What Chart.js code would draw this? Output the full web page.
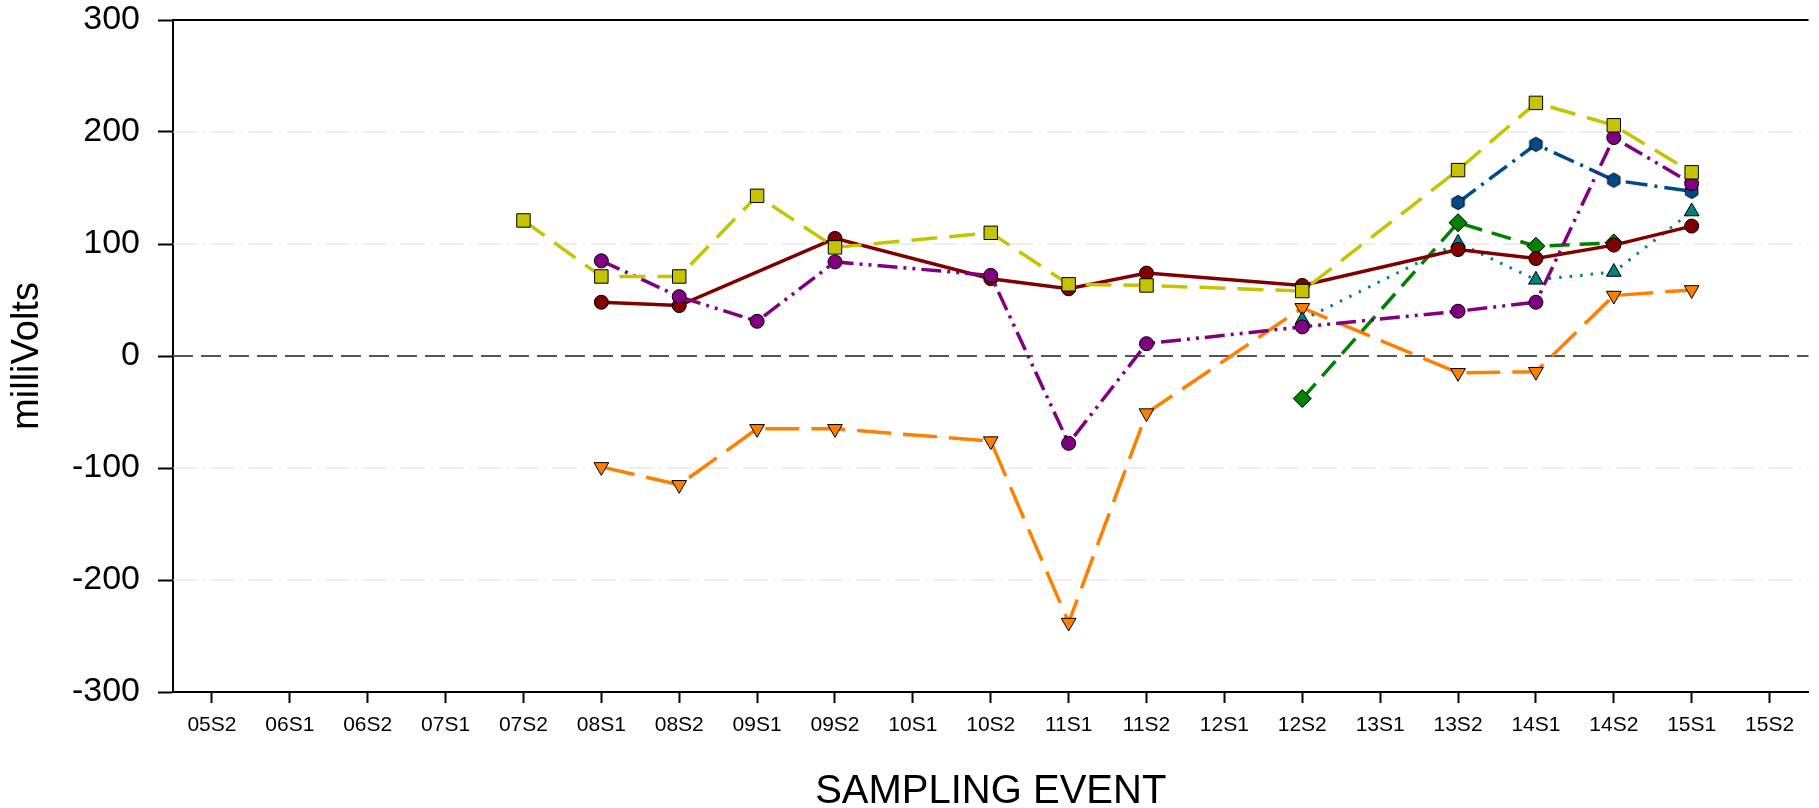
<!DOCTYPE html>
<html>
<head>
<meta charset="utf-8">
<script src="https://cdn.jsdelivr.net/npm/chart.js@4.4.0/dist/chart.umd.min.js"></script>
<style>
  body { margin: 0; background: #fff; }
  canvas { display: block; }
</style>
</head>
<body>
<canvas id="myChart" width="1819" height="808"></canvas>
<script>
// sampling events along the x axis
const events = ['05S2', '06S1', '06S2', '07S1', '07S2', '08S1', '08S2', '09S1', '09S2', '10S1',
    '10S2', '11S1', '11S2', '12S1', '12S2', '13S1', '13S2', '14S1', '14S2', '15S1', '15S2'];

const yTicks = [-300, -200, -100, 0, 100, 200, 300];

// values in millivolts, null where the well was not sampled
const darkRed = [null, null, null, null, null, 48, 45, null, 105, null, 69, 60, 74, null, 63, null, 95, 87, 99, 116, null];
const olive = [null, null, null, null, 121, 71, 71, 143, 97, null, 110, 64, 63, null, 58, null, 166, 226, 206, 164, null];
const purple = [null, null, null, null, null, 85, 53, 31, 84, null, 72, -78, 11, null, 26, null, 40, 48, 195, 154, null];
const orange = [null, null, null, null, null, -99, -115, -65, -65, null, -76, -238, -51, null, 43, null, -15, -14, 54, 59, null];
const darkBlue = [null, null, null, null, null, null, null, null, null, null, null, null, null, null, null, null, 137, 189, 157, 147, null];
const green = [null, null, null, null, null, null, null, null, null, null, null, null, null, null, -38, null, 119, 98, 101, null, null];
const teal = [null, null, null, null, null, null, null, null, null, null, null, null, null, null, 32, null, 101, 68, 75, 129, null];

// hexagon marker, chart.js has none built in
function hexagon(fill) {
    const c = document.createElement('canvas');
    c.width = 17;
    c.height = 17;
    const g = c.getContext('2d');
    g.beginPath();
    for (let i = 0; i < 6; i++) {
        const a = Math.PI / 2 + i * Math.PI / 3;
        const px = 8.5 + 7.2 * Math.cos(a);
        const py = 8.5 - 7.2 * Math.sin(a);
        if (i === 0) g.moveTo(px, py); else g.lineTo(px, py);
    }
    g.closePath();
    g.fillStyle = fill;
    g.fill();
    g.lineWidth = 1;
    g.strokeStyle = '#000';
    g.stroke();
    return c;
}

// reference lines drawn on the y scale
const gridLines = {
    id: 'gridLines',
    beforeDatasetsDraw(chart) {
        const { ctx, chartArea, scales: { y } } = chart;
        ctx.save();
        yTicks.forEach(v => {
            if (v === -300) return;
            const py = Math.round(y.getPixelForValue(v));
            ctx.beginPath();
            if (v === 300) {
                ctx.strokeStyle = '#000';
                ctx.lineWidth = 2;
                ctx.setLineDash([]);
            } else if (v === 0) {
                ctx.strokeStyle = '#555';
                ctx.lineWidth = 2;
                ctx.setLineDash([20, 8]);
            } else {
                ctx.strokeStyle = '#dcdcdc';
                ctx.lineWidth = 1;
                ctx.setLineDash([24, 6, 2, 6]);
            }
            ctx.moveTo(chartArea.left, py);
            ctx.lineTo(chartArea.right, py);
            ctx.stroke();
        });
        ctx.restore();
    }
};

function series(data, color, dash, style, radius, extra) {
    return Object.assign({
        data: data,
        borderColor: color,
        backgroundColor: color,
        borderWidth: 3.5,
        borderDash: dash,
        borderCapStyle: 'butt',
        pointStyle: style,
        pointRadius: radius,
        pointBorderColor: '#000',
        pointBorderWidth: 1,
        pointBackgroundColor: color,
        spanGaps: true,
        tension: 0
    }, extra || {});
}

const ctx = document.getElementById('myChart').getContext('2d');
new Chart(ctx, {
    type: 'line',
    data: {
        labels: events,
        datasets: [
            series(olive, '#c6c400', [26, 12], 'rect', 9.5),
            series(purple, '#800080', [20, 6, 3, 6, 3, 6], 'circle', 7),
            series(darkRed, '#800000', [], 'circle', 7),
            series(darkBlue, '#004a8c', [22, 7, 3, 7], hexagon('#004a8c'), 7),
            series(green, '#008000', [20, 10], 'rectRot', 9),
            series(teal, '#008080', [2.5, 8], 'triangle', 8.5, { borderWidth: 3 }),
            series(orange, '#ff8000', [34, 12], 'triangle', 8.5, { pointRotation: 180 })
        ]
    },
    options: {
        responsive: false,
        animation: false,
        layout: {
            padding: { top: 20, right: 0, left: 0, bottom: 0 }
        },
        scales: {
            x: {
                offset: true,
                grid: {
                    display: true,
                    drawOnChartArea: false,
                    offset: false,
                    tickLength: 11,
                    tickColor: '#000',
                    tickWidth: 2
                },
                border: { display: true, color: '#000', width: 2 },
                ticks: {
                    color: '#000',
                    padding: 10,
                    maxRotation: 0,
                    autoSkip: false,
                    font: { family: 'Liberation Sans, Arial', size: 21 }
                },
                title: {
                    display: true,
                    text: 'SAMPLING EVENT',
                    color: '#000',
                    padding: { top: 0, bottom: 0 },
                    font: { family: 'Liberation Sans, Arial', size: 40, lineHeight: 0.8 }
                },
                afterFit: function (scale) {
                    scale.height = 116;
                    scale.paddingLeft = 0;
                    scale.paddingRight = 0;
                }
            },
            y: {
                min: -300,
                max: 300,
                grid: {
                    display: true,
                    drawOnChartArea: false,
                    tickLength: 15,
                    tickColor: '#000',
                    tickWidth: 2
                },
                border: { display: true, color: '#000', width: 2 },
                ticks: {
                    stepSize: 100,
                    color: '#000',
                    padding: 18,
                    font: { family: 'Liberation Sans, Arial', size: 34 }
                },
                title: {
                    display: true,
                    text: 'milliVolts',
                    color: '#000',
                    padding: { top: 9, bottom: 0 },
                    font: { family: 'Liberation Sans, Arial', size: 38, lineHeight: 1 }
                },
                afterFit: function (scale) {
                    scale.width = 173;
                    scale.paddingTop = 0;
                    scale.paddingBottom = 0;
                }
            }
        },
        plugins: {
            legend: { display: false },
            tooltip: { enabled: false }
        }
    },
    plugins: [gridLines]
});
</script>
</body>
</html>
